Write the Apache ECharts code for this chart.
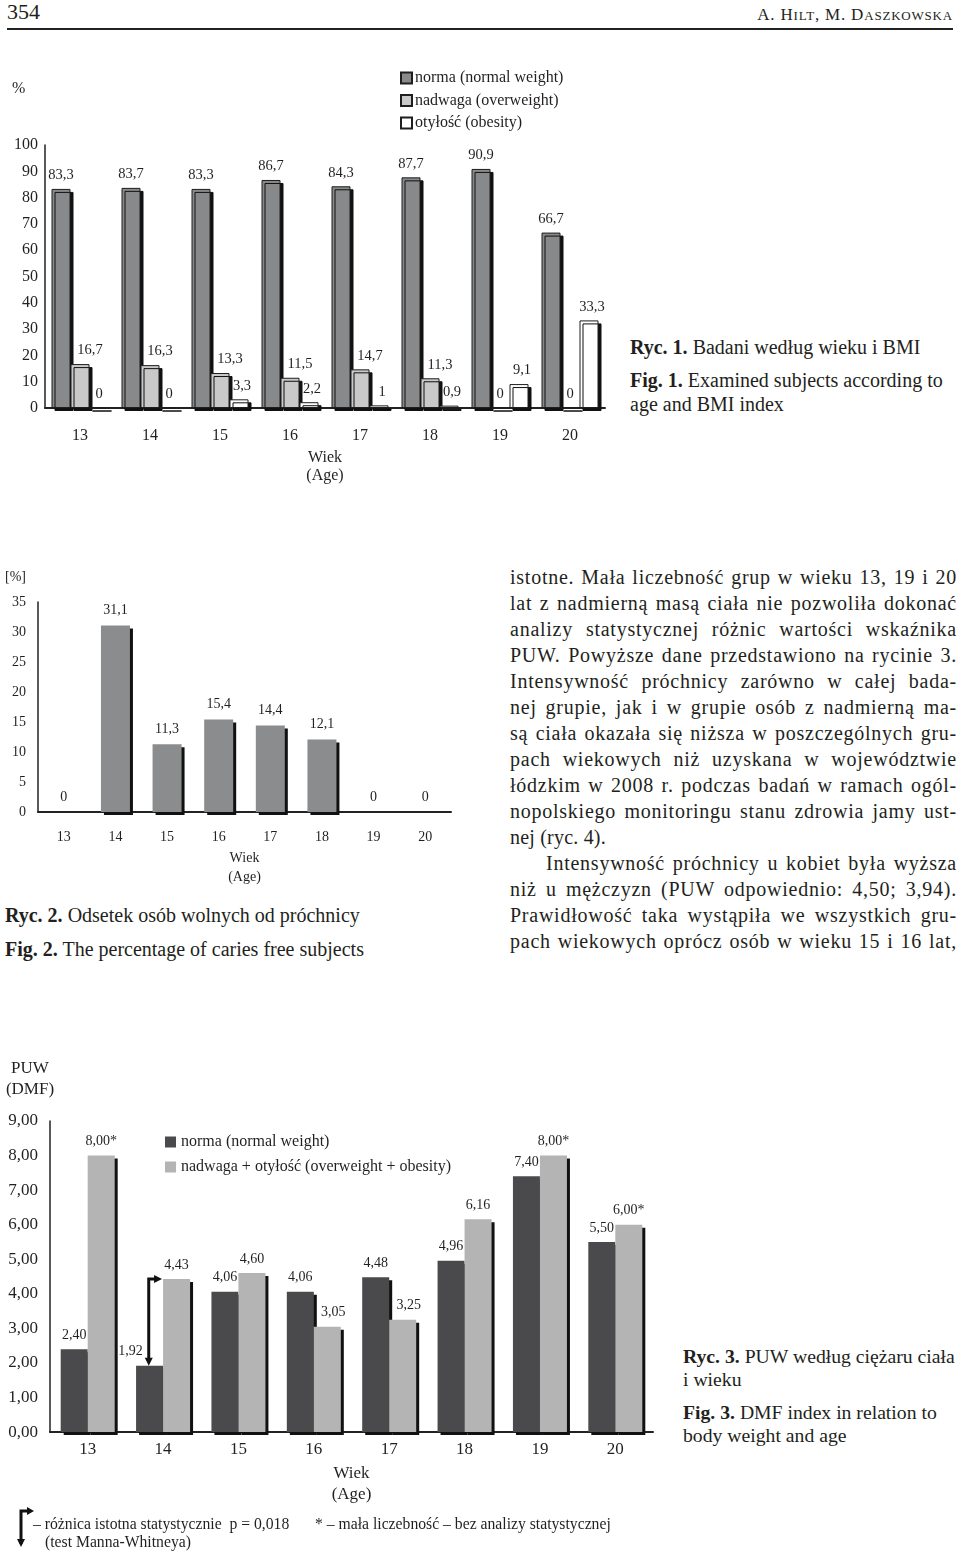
<!DOCTYPE html>
<html>
<head>
<meta charset="utf-8">
<script src="https://cdn.jsdelivr.net/npm/echarts@6/dist/echarts.min.js"></script>
<style>
body{margin:0;width:960px;height:1552px;position:relative;background:#fff;overflow:hidden;
  font-family:'Liberation Serif','Times New Roman',serif;color:#231f20}
.t{position:absolute;white-space:nowrap;line-height:1}
.chart{position:absolute;left:0}
.cap{position:absolute;font-size:20px;line-height:24px;white-space:nowrap}
.cap b{font-weight:bold}
.sc{font-size:13px}
.body{position:absolute;left:510px;top:564px;width:447px;font-size:20px;line-height:26px;letter-spacing:0.75px}
.body div{text-align:justify;text-align-last:justify;white-space:nowrap;height:26px}
.body div.l{text-align-last:left;letter-spacing:0.2px}
.body div.ind{padding-left:36px}
</style>
</head>
<body>
<div class="t" style="left:7px;top:1px;font-size:22px">354</div>
<div class="t" style="right:7px;top:6px;font-size:17px;letter-spacing:0.8px">A. H<span class="sc">ILT</span>, M. D<span class="sc">ASZKOWSKA</span></div>
<div style="position:absolute;left:7px;top:28px;width:946px;height:1.5px;background:#222"></div>

<div id="c1" class="chart" style="top:50px;width:620px;height:450px"></div>
<div class="t" style="left:12px;top:80px;font-size:16px">%</div>
<div class="cap" style="left:630px;top:335px"><b>Ryc. 1.</b> Badani według wieku i BMI</div>
<div class="cap" style="left:630px;top:368px"><b>Fig. 1.</b> Examined subjects according to<br>age and BMI index</div>

<div id="c2" class="chart" style="top:560px;width:480px;height:340px"></div>
<div class="t" style="left:5px;top:570px;font-size:14px">[%]</div>
<div class="cap" style="left:5px;top:903px"><b>Ryc. 2.</b> Odsetek osób wolnych od próchnicy</div>
<div class="cap" style="left:5px;top:937px"><b>Fig. 2.</b> The percentage of caries free subjects</div>

<div class="body">
<div>istotne. Mała liczebność grup w wieku 13, 19 i 20</div>
<div>lat z nadmierną masą ciała nie pozwoliła dokonać</div>
<div>analizy statystycznej różnic wartości wskaźnika</div>
<div>PUW. Powyższe dane przedstawiono na rycinie 3.</div>
<div>Intensywność próchnicy zarówno w całej bada-</div>
<div>nej grupie, jak i w grupie osób z nadmierną ma-</div>
<div>są ciała okazała się niższa w poszczególnych gru-</div>
<div>pach wiekowych niż uzyskana w województwie</div>
<div>łódzkim w 2008 r. podczas badań w ramach ogól-</div>
<div>nopolskiego monitoringu stanu zdrowia jamy ust-</div>
<div class="l">nej (ryc. 4).</div>
<div class="ind">Intensywność próchnicy u kobiet była wyższa</div>
<div>niż u mężczyzn (PUW odpowiednio: 4,50; 3,94).</div>
<div>Prawidłowość taka wystąpiła we wszystkich gru-</div>
<div>pach wiekowych oprócz osób w wieku 15 i 16 lat,</div>
</div>

<div id="c3" class="chart" style="top:1040px;width:680px;height:470px"></div>
<div class="t" style="left:5px;top:1057px;width:50px;text-align:center;font-size:17px;line-height:21px">PUW<br>(DMF)</div>
<div class="cap" style="left:683px;top:1345px;line-height:23px;font-size:19.7px"><b>Ryc. 3.</b> PUW według ciężaru ciała<br>i wieku</div>
<div class="cap" style="left:683px;top:1401px;line-height:23px;font-size:19.7px"><b>Fig. 3.</b> DMF index in relation to<br>body weight and age</div>

<svg style="position:absolute;left:12px;top:1506px" width="24" height="42">
  <polyline points="9,38 9,5 16,5" fill="none" stroke="#111" stroke-width="3"/>
  <polygon points="15,1 22,5 15,9" fill="#111"/>
  <polygon points="5,33 13,33 9,41" fill="#111"/>
</svg>
<div class="t" style="left:33px;top:1516px;font-size:15.7px">– różnica istotna statystycznie&nbsp; p = 0,018</div>
<div class="t" style="left:45px;top:1534px;font-size:15.7px">(test Manna-Whitneya)</div>
<div class="t" style="left:315px;top:1516px;font-size:15.7px">* – mała liczebność – bez analizy statystycznej</div>

<script>
var ages = ['13', '14', '15', '16', '17', '18', '19', '20'];

// Ryc. 1 - BMI
var bmiNorma = [83.3, 83.7, 83.3, 86.7, 84.3, 87.7, 90.9, 66.7];
var bmiNadwaga = [16.7, 16.3, 13.3, 11.5, 14.7, 11.3, 0, 0];
var bmiOtylosc = [0, 0, 3.3, 2.2, 1, 0.9, 9.1, 33.3];
var bmiNames = ['norma (normal weight)', 'nadwaga (overweight)', 'otyłość (obesity)'];

// Ryc. 2 - wolni od próchnicy
var cariesFree = [0, 31.1, 11.3, 15.4, 14.4, 12.1, 0, 0];

// Ryc. 3 - PUW
var puwNorma = [2.40, 1.92, 4.06, 4.06, 4.48, 4.96, 7.40, 5.50];
var puwNadwaga = [8.00, 4.43, 4.60, 3.05, 3.25, 6.16, 8.00, 6.00];
var puwMalaGrupa = [true, false, false, false, false, false, true, true];
var puwIstotna = [1]; // indeks wieku z istotna roznica
var puwNames = ['norma (normal weight)', 'nadwaga + otyłość (overweight + obesity)'];

var FONT = "'Liberation Serif','Times New Roman',serif";
var INK = '#231f20';

function comma(v){ return String(v).replace('.', ','); }

function shadowStyle(color, border){
	var s = {color: color, shadowColor: '#111', shadowOffsetX: 3, shadowOffsetY: 3, shadowBlur: 0};
	if (border) { s.borderColor = '#1e1e1e'; s.borderWidth = 1; }
	return s;
}

function xAx(margin, size, gap, lh){
	return {
		type: 'category', data: ages,
		axisLine: {lineStyle: {color: '#222', width: 2}},
		axisTick: {show: false},
		axisLabel: {margin: margin, fontSize: size, color: INK, fontFamily: FONT},
		name: 'Wiek\n(Age)', nameLocation: 'middle', nameGap: gap,
		nameTextStyle: {fontSize: size, color: INK, fontFamily: FONT, lineHeight: lh, verticalAlign: 'top'}
	};
}

function yAx(max, step, size, margin, fmt){
	return {
		type: 'value', min: 0, max: max, interval: step,
		splitLine: {show: false},
		axisLine: {show: true, lineStyle: {color: '#222', width: 1.5}},
		axisTick: {show: false},
		axisLabel: {margin: margin, fontSize: size, color: INK, fontFamily: FONT, formatter: fmt}
	};
}

var noShadow = {shadowBlur: 0, shadowOffsetX: 0, shadowOffsetY: 0, shadowColor: 'rgba(0,0,0,0)'};

// ---------- Ryc. 1 ----------
var chart1 = echarts.init(document.getElementById('c1'));
var bmiData = [bmiNorma, bmiNadwaga, bmiOtylosc];
var bmiColors = ['#88898b', '#c9c9c9', '#ffffff'];
var bmiLabelShift = [0, 10, 3];
var series1 = [];
for (var i = 0; i < 3; i++) {
	series1.push({
		name: bmiNames[i], type: 'bar', z: 2 + i, barWidth: 19, barGap: '0%',
		data: bmiData[i].map(function(v){
			// etykiety niezerowych slupkow przesuniete w prawo jak w oryginale
			return v > 0 ? {value: v, label: {offset: [bmiLabelShift[i], 0]}} : {value: v};
		}),
		itemStyle: shadowStyle(bmiColors[i], true),
		label: {show: true, position: 'top', distance: 6, fontSize: 14.5, color: INK, fontFamily: FONT,
			formatter: function(p){ return comma(p.value); }}
	});
}
chart1.setOption({
	animation: false,
	grid: {left: 45, top: 95, width: 560, height: 263},
	legend: {
		data: bmiNames, orient: 'vertical', left: 395, top: 15, itemWidth: 11, itemHeight: 11, itemGap: 6.5,
		icon: 'rect', itemStyle: noShadow,
		textStyle: {fontSize: 16, color: INK, fontFamily: FONT, padding: [0, 0, 0, -2]}
	},
	xAxis: xAx(20, 16, 36, 18),
	yAxis: yAx(100, 10, 16, 7),
	series: series1
});

// ---------- Ryc. 2 ----------
var chart2 = echarts.init(document.getElementById('c2'));
chart2.setOption({
	animation: false,
	grid: {left: 38, top: 42, width: 413, height: 210},
	xAxis: xAx(18, 14, 36, 19),
	yAxis: yAx(35, 5, 14, 12),
	series: [{
		type: 'bar', data: cariesFree, barWidth: 29,
		itemStyle: shadowStyle('#8b8c8e', false),
		label: {show: true, position: 'top', distance: 8, fontSize: 14, color: INK, fontFamily: FONT,
			formatter: function(p){ return comma(p.value); }}
	}]
});

// ---------- Ryc. 3 ----------
var chart3 = echarts.init(document.getElementById('c3'));
var normaData = puwNorma.map(function(v, i){
	var d = {value: v};
	if (puwIstotna.indexOf(i) >= 0) d.label = {offset: [-19, 0]};
	return d;
});
// etykieta jasnego slupka odsunieta w prawo, gdy ciemny slupek jest wyzszy
var nadwagaData = puwNadwaga.map(function(v, i){
	var d = {value: v};
	if (puwNorma[i] > v) d.label = {offset: [6, 0]};
	return d;
});
var lab3 = {show: true, position: 'top', distance: 7, fontSize: 14, color: INK, fontFamily: FONT};
chart3.setOption({
	animation: false,
	grid: {left: 50, top: 81, width: 603, height: 319},
	legend: {
		data: puwNames, orient: 'vertical', left: 160, top: 89, itemWidth: 11, itemHeight: 11, itemGap: 9,
		icon: 'rect', itemStyle: noShadow,
		textStyle: {fontSize: 16, color: INK, fontFamily: FONT}
	},
	xAxis: xAx(9, 17, 24, 21),
	yAxis: yAx(9, 1, 17, 12, function(v){ return v.toFixed(2).replace('.', ','); }),
	series: [
		{name: puwNames[0], type: 'bar', data: normaData, barWidth: 27, barGap: '0%',
			itemStyle: shadowStyle('#4a4a4c', false),
			label: Object.assign({formatter: function(p){ return p.value.toFixed(2).replace('.', ','); }}, lab3)},
		{name: puwNames[1], type: 'bar', data: nadwagaData, barWidth: 27, barGap: '0%',
			itemStyle: shadowStyle('#b4b4b4', false),
			label: Object.assign({formatter: function(p){
				return p.value.toFixed(2).replace('.', ',') + (puwMalaGrupa[p.dataIndex] ? '*' : '');
			}}, lab3)},
		{
			type: 'custom', z: 5,
			data: puwIstotna.map(function(i){ return [i, puwNorma[i], puwNadwaga[i]]; }),
			encode: {x: 0, y: [1, 2]},
			renderItem: function(params, api){
				var lo = api.coord([api.value(0), api.value(1)]);
				var hi = api.coord([api.value(0), api.value(2)]);
				var band = api.size([1, 0])[0];
				var x = lo[0] - band * 0.19;
				var endX = lo[0] - 1;
				return {type: 'group', children: [
					{type: 'polyline', shape: {points: [[x, lo[1] - 7], [x, hi[1]], [endX - 6, hi[1]]]},
						style: {stroke: '#111', lineWidth: 3, fill: null}},
					{type: 'polygon', shape: {points: [[x - 4, lo[1] - 8], [x + 4, lo[1] - 8], [x, lo[1]]]},
						style: {fill: '#111'}},
					{type: 'polygon', shape: {points: [[endX - 8, hi[1] - 4], [endX - 8, hi[1] + 4], [endX, hi[1]]]},
						style: {fill: '#111'}}
				]};
			}
		}
	]
});
</script>
</body>
</html>
